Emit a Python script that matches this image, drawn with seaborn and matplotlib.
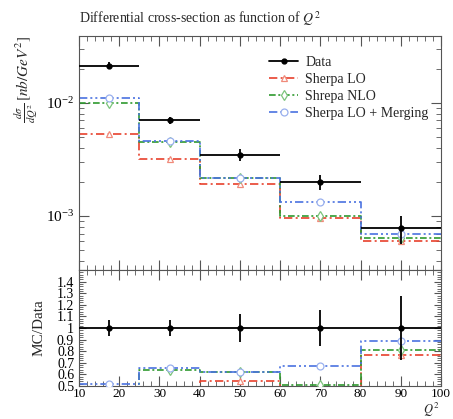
import numpy as np
import pandas as pd
import matplotlib
matplotlib.use("Agg")
import matplotlib.pyplot as plt
from matplotlib.ticker import MultipleLocator, FuncFormatter, LogLocator, NullFormatter
import seaborn as sns

# ---- data ----
edges = [10, 25, 40, 60, 80, 100]
data_vals = [0.0214, 0.00707, 0.00349, 0.00199, 0.000783]
data_relerr = [0.07, 0.07, 0.12, 0.155, 0.275]
lo_vals = [0.00532, 0.00319, 0.00190, 0.00097, 0.000603]
nlo_vals = [0.0100, 0.00450, 0.00216, 0.00101, 0.000634]
merg_vals = [0.0111, 0.00465, 0.00218, 0.00134, 0.000697]
labels = ["Data", "Sherpa LO", "Shrepa NLO", "Sherpa LO + Merging"]

sns.set_style("ticks")
plt.rcParams["font.family"] = ["Liberation Serif", "DejaVu Serif"]
plt.rcParams["mathtext.fontset"] = "stix"
plt.rcParams["axes.edgecolor"] = "#555555"
plt.rcParams["xtick.color"] = "#555555"
plt.rcParams["ytick.color"] = "#555555"
plt.rcParams["xtick.labelcolor"] = "black"
plt.rcParams["ytick.labelcolor"] = "black"

fig = plt.figure(figsize=(4.53, 4.19), dpi=100)
W, H = 453, 419
L, R = 79, 441
ax = fig.add_axes([L / W, 1 - 270 / H, (R - L) / W, (270 - 36) / H])
axr = fig.add_axes([L / W, 1 - 386 / H, (R - L) / W, (386 - 270) / H], sharex=ax)

edges_a = np.array(edges, float)
centers = (edges_a[:-1] + edges_a[1:]) / 2
halfw = (edges_a[1:] - edges_a[:-1]) / 2
data_a = np.array(data_vals)
derr = data_a * np.array(data_relerr)

mc = [
    (lo_vals, "#e8412c", (5, 2, 1.2, 2), "^", "#f08a7a", 5),
    (nlo_vals, "#2f9a2f", (4, 1.6, 1.2, 1.6), "d", "#7cc47c", 5),
    (merg_vals, "#4a72e0", (5, 1.8, 1.2, 1.8, 1.2, 1.8), "o", "#9ab0ee", 5),
]

def step_frame(vals):
    return pd.DataFrame({"x": edges_a, "y": list(vals) + [vals[-1]]})

handles = []
ax.errorbar(centers, data_a, xerr=halfw, yerr=derr, fmt="o", color="black",
            ms=3.5, lw=1.3, capsize=0, zorder=5)
handles.append(plt.Line2D([], [], color="black", marker="o", ms=3.5, lw=1.3))

for (vals, col, dash, mk, mcol, ms), lab in zip(mc, labels[1:]):
    df = step_frame(vals)
    sns.lineplot(data=df, x="x", y="y", ax=ax, drawstyle="steps-post", color=col,
                 lw=1.2, dashes=False, estimator=None, sort=False)
    ax.lines[-1].set_dashes(dash)
    ax.plot(centers, vals, ls="none", marker=mk, mfc="white", mec=mcol, ms=ms, mew=0.9, zorder=4)
    rat = np.array(vals) / data_a
    dfr = step_frame(rat)
    sns.lineplot(data=dfr, x="x", y="y", ax=axr, drawstyle="steps-post", color=col,
                 lw=1.2, dashes=False, estimator=None, sort=False)
    axr.lines[-1].set_dashes(dash)
    axr.plot(centers, rat, ls="none", marker=mk, mfc="white", mec=mcol, ms=ms, mew=0.9, zorder=4)
    handles.append(plt.Line2D([], [], color=col, dashes=dash, lw=1.2, marker=mk,
                              mfc="white", mec=mcol, ms=ms, mew=0.9))

ax.set_yscale("log")
ax.set_ylim(3.33e-4, 0.0391)
ax.set_xlim(10, 100)

axr.axhline(1.0, color="black", lw=1.3, zorder=3)
axr.errorbar(centers, np.ones_like(centers), yerr=np.array(data_relerr), fmt="o",
             color="black", ms=3.5, lw=1.3, capsize=0, zorder=5)
axr.set_ylim(0.5, 1.5)

for a in (ax, axr):
    a.tick_params(which="both", direction="in", top=True, right=True)
    a.tick_params(which="major", length=7, width=0.8)
    a.tick_params(which="minor", length=3.5, width=0.6)
    a.xaxis.set_major_locator(MultipleLocator(10))
    a.xaxis.set_minor_locator(MultipleLocator(2))
    a.set_xlabel("")
    a.set_ylabel("")

ax.yaxis.set_major_locator(LogLocator(base=10, numticks=10))
ax.yaxis.set_minor_locator(LogLocator(base=10, subs=np.arange(2, 10), numticks=10))
ax.yaxis.set_minor_formatter(NullFormatter())
ax.tick_params(axis="x", labelbottom=False)
ax.tick_params(axis="y", labelsize=11)

axr.yaxis.set_major_locator(MultipleLocator(0.1))
axr.yaxis.set_minor_locator(MultipleLocator(0.02))
axr.yaxis.set_major_formatter(FuncFormatter(lambda v, p: ("%.1f" % v).rstrip("0").rstrip(".") if v < 1.45 else ""))
axr.tick_params(labelsize=10)
axr.tick_params(axis="x", pad=1.5, labelsize=9.5)
axr.tick_params(axis="y", which="major", length=5)
axr.tick_params(axis="y", which="minor", length=3)

ax.set_title(r"Differential cross-section as function of $Q^2$", loc="left", fontsize=10, pad=9)
ax.text(-0.145, 1.0, r"$\frac{d\sigma}{dQ^2}\,[nb/GeV^2]$", transform=ax.transAxes,
        rotation=90, ha="center", va="top", fontsize=11)
axr.text(-0.11, 0.5, "MC/Data", transform=axr.transAxes, rotation=90,
         ha="center", va="center", fontsize=11)
fig.text(440 / W, 0.5 / H, r"$Q^2$", ha="right", va="bottom", fontsize=9)

ax.legend(handles, labels, loc="upper left", bbox_to_anchor=(0.51, 0.94), frameon=False,
          fontsize=10, handlelength=2.1, handletextpad=0.5, labelspacing=0.3, borderaxespad=0.0)

fig.savefig("out.png", dpi=100)
